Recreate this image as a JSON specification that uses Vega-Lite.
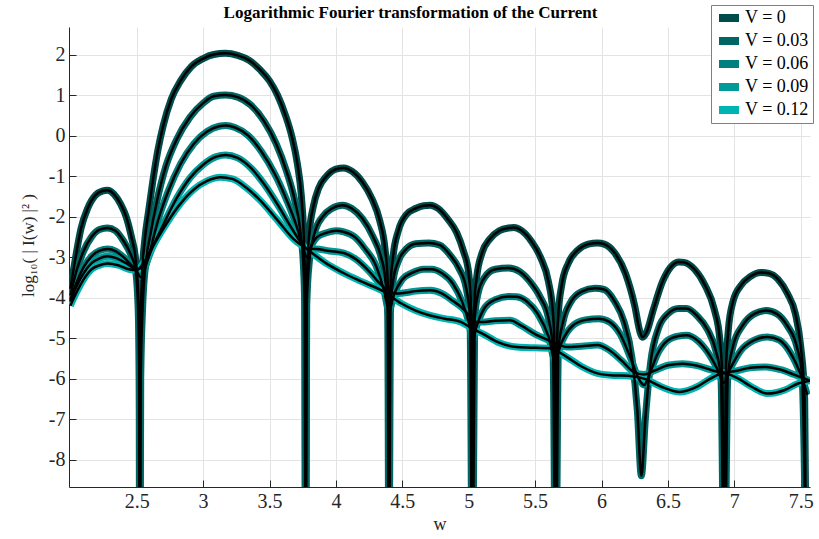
{
  "$schema": "https://vega.github.io/schema/vega-lite/v6.json",
  "width": 741,
  "height": 460,
  "autosize": {"type": "none"},
  "padding": {"left": 69, "top": 27, "right": 9, "bottom": 52},
  "background": "white",
  "config": {
    "view": {"stroke": null}
  },
  "title": {
    "text": "Logarithmic Fourier transformation of the Current",
    "font": "Liberation Serif",
    "fontSize": 17,
    "fontWeight": "bold",
    "color": "#000000",
    "anchor": "middle",
    "frame": "group",
    "baseline": "alphabetic",
    "dx": -29,
    "dy": 38,
    "offset": 8
  },
  "data": {
    "values": [
      {"s":"V = 0","w":2.00,"v":-3.78},{"s":"V = 0","w":2.04,"v":-3.0},{"s":"V = 0","w":2.08,"v":-2.3},{"s":"V = 0","w":2.13,"v":-1.8},{"s":"V = 0","w":2.19,"v":-1.47},{"s":"V = 0","w":2.24,"v":-1.37},{"s":"V = 0","w":2.28,"v":-1.35},{"s":"V = 0","w":2.33,"v":-1.45},{"s":"V = 0","w":2.38,"v":-1.7},{"s":"V = 0","w":2.42,"v":-2.0},{"s":"V = 0","w":2.46,"v":-2.5},{"s":"V = 0","w":2.49,"v":-3.0},{"s":"V = 0","w":2.51,"v":-3.8},{"s":"V = 0","w":2.518,"v":-5},{"s":"V = 0","w":2.522,"v":-12},{"s":"V = 0","w":2.527,"v":-5},{"s":"V = 0","w":2.54,"v":-3.5},{"s":"V = 0","w":2.56,"v":-2.6},{"s":"V = 0","w":2.59,"v":-1.85},{"s":"V = 0","w":2.62,"v":-1.15},{"s":"V = 0","w":2.66,"v":-0.35},{"s":"V = 0","w":2.7,"v":0.25},{"s":"V = 0","w":2.76,"v":0.9},{"s":"V = 0","w":2.83,"v":1.35},{"s":"V = 0","w":2.91,"v":1.7},{"s":"V = 0","w":3.0,"v":1.9},{"s":"V = 0","w":3.08,"v":2.0},{"s":"V = 0","w":3.17,"v":2.03},{"s":"V = 0","w":3.26,"v":1.98},{"s":"V = 0","w":3.35,"v":1.85},{"s":"V = 0","w":3.43,"v":1.62},{"s":"V = 0","w":3.5,"v":1.35},{"s":"V = 0","w":3.56,"v":1.0},{"s":"V = 0","w":3.62,"v":0.5},{"s":"V = 0","w":3.67,"v":-0.05},{"s":"V = 0","w":3.71,"v":-0.7},{"s":"V = 0","w":3.74,"v":-1.5},{"s":"V = 0","w":3.757,"v":-2.4},{"s":"V = 0","w":3.766,"v":-3.4},{"s":"V = 0","w":3.772,"v":-12},{"s":"V = 0","w":3.778,"v":-4.2},{"s":"V = 0","w":3.785,"v":-3.2},{"s":"V = 0","w":3.8,"v":-2.4},{"s":"V = 0","w":3.83,"v":-1.75},{"s":"V = 0","w":3.87,"v":-1.3},{"s":"V = 0","w":3.93,"v":-1.0},{"s":"V = 0","w":4.0,"v":-0.83},{"s":"V = 0","w":4.06,"v":-0.8},{"s":"V = 0","w":4.12,"v":-0.88},{"s":"V = 0","w":4.2,"v":-1.15},{"s":"V = 0","w":4.27,"v":-1.55},{"s":"V = 0","w":4.33,"v":-2.1},{"s":"V = 0","w":4.37,"v":-2.8},{"s":"V = 0","w":4.39,"v":-3.6},{"s":"V = 0","w":4.396,"v":-4.8},{"s":"V = 0","w":4.4,"v":-12},{"s":"V = 0","w":4.404,"v":-4.8},{"s":"V = 0","w":4.41,"v":-3.8},{"s":"V = 0","w":4.43,"v":-3.0},{"s":"V = 0","w":4.47,"v":-2.35},{"s":"V = 0","w":4.53,"v":-1.95},{"s":"V = 0","w":4.6,"v":-1.8},{"s":"V = 0","w":4.66,"v":-1.73},{"s":"V = 0","w":4.71,"v":-1.72},{"s":"V = 0","w":4.77,"v":-1.8},{"s":"V = 0","w":4.84,"v":-2.05},{"s":"V = 0","w":4.91,"v":-2.4},{"s":"V = 0","w":4.96,"v":-2.85},{"s":"V = 0","w":5.0,"v":-3.4},{"s":"V = 0","w":5.018,"v":-4.3},{"s":"V = 0","w":5.024,"v":-5.5},{"s":"V = 0","w":5.028,"v":-12},{"s":"V = 0","w":5.032,"v":-5.5},{"s":"V = 0","w":5.04,"v":-4.3},{"s":"V = 0","w":5.06,"v":-3.5},{"s":"V = 0","w":5.1,"v":-2.9},{"s":"V = 0","w":5.16,"v":-2.55},{"s":"V = 0","w":5.23,"v":-2.35},{"s":"V = 0","w":5.3,"v":-2.28},{"s":"V = 0","w":5.34,"v":-2.27},{"s":"V = 0","w":5.4,"v":-2.35},{"s":"V = 0","w":5.47,"v":-2.6},{"s":"V = 0","w":5.54,"v":-3.0},{"s":"V = 0","w":5.6,"v":-3.6},{"s":"V = 0","w":5.635,"v":-4.4},{"s":"V = 0","w":5.648,"v":-5.5},{"s":"V = 0","w":5.655,"v":-12},{"s":"V = 0","w":5.662,"v":-5.5},{"s":"V = 0","w":5.675,"v":-4.4},{"s":"V = 0","w":5.7,"v":-3.7},{"s":"V = 0","w":5.75,"v":-3.15},{"s":"V = 0","w":5.82,"v":-2.83},{"s":"V = 0","w":5.9,"v":-2.68},{"s":"V = 0","w":5.97,"v":-2.65},{"s":"V = 0","w":6.02,"v":-2.68},{"s":"V = 0","w":6.1,"v":-2.9},{"s":"V = 0","w":6.18,"v":-3.4},{"s":"V = 0","w":6.25,"v":-4.2},{"s":"V = 0","w":6.29,"v":-4.85},{"s":"V = 0","w":6.31,"v":-4.98},{"s":"V = 0","w":6.34,"v":-4.85},{"s":"V = 0","w":6.39,"v":-4.3},{"s":"V = 0","w":6.46,"v":-3.6},{"s":"V = 0","w":6.52,"v":-3.25},{"s":"V = 0","w":6.58,"v":-3.12},{"s":"V = 0","w":6.62,"v":-3.13},{"s":"V = 0","w":6.7,"v":-3.3},{"s":"V = 0","w":6.78,"v":-3.7},{"s":"V = 0","w":6.85,"v":-4.3},{"s":"V = 0","w":6.89,"v":-5.0},{"s":"V = 0","w":6.91,"v":-6},{"s":"V = 0","w":6.925,"v":-12},{"s":"V = 0","w":6.935,"v":-6},{"s":"V = 0","w":6.955,"v":-4.8},{"s":"V = 0","w":6.99,"v":-4.1},{"s":"V = 0","w":7.05,"v":-3.7},{"s":"V = 0","w":7.12,"v":-3.48},{"s":"V = 0","w":7.2,"v":-3.38},{"s":"V = 0","w":7.26,"v":-3.4},{"s":"V = 0","w":7.33,"v":-3.55},{"s":"V = 0","w":7.4,"v":-3.9},{"s":"V = 0","w":7.46,"v":-4.4},{"s":"V = 0","w":7.5,"v":-5.2},{"s":"V = 0","w":7.53,"v":-6.5},{"s":"V = 0","w":7.545,"v":-12},

      {"s":"V = 0.03","w":2.00,"v":-3.95},{"s":"V = 0.03","w":2.05,"v":-3.3},{"s":"V = 0.03","w":2.1,"v":-2.85},{"s":"V = 0.03","w":2.16,"v":-2.5},{"s":"V = 0.03","w":2.22,"v":-2.32},{"s":"V = 0.03","w":2.28,"v":-2.28},{"s":"V = 0.03","w":2.34,"v":-2.35},{"s":"V = 0.03","w":2.4,"v":-2.6},{"s":"V = 0.03","w":2.45,"v":-2.9},{"s":"V = 0.03","w":2.49,"v":-3.3},{"s":"V = 0.03","w":2.51,"v":-4.2},{"s":"V = 0.03","w":2.52,"v":-6},{"s":"V = 0.03","w":2.525,"v":-12},{"s":"V = 0.03","w":2.53,"v":-6},{"s":"V = 0.03","w":2.545,"v":-4.2},{"s":"V = 0.03","w":2.57,"v":-3.1},{"s":"V = 0.03","w":2.6,"v":-2.5},{"s":"V = 0.03","w":2.65,"v":-1.65},{"s":"V = 0.03","w":2.72,"v":-0.75},{"s":"V = 0.03","w":2.8,"v":-0.1},{"s":"V = 0.03","w":2.9,"v":0.45},{"s":"V = 0.03","w":3.0,"v":0.8},{"s":"V = 0.03","w":3.08,"v":0.97},{"s":"V = 0.03","w":3.17,"v":1.0},{"s":"V = 0.03","w":3.26,"v":0.95},{"s":"V = 0.03","w":3.36,"v":0.75},{"s":"V = 0.03","w":3.46,"v":0.35},{"s":"V = 0.03","w":3.55,"v":-0.2},{"s":"V = 0.03","w":3.63,"v":-0.9},{"s":"V = 0.03","w":3.69,"v":-1.6},{"s":"V = 0.03","w":3.73,"v":-2.3},{"s":"V = 0.03","w":3.755,"v":-3.2},{"s":"V = 0.03","w":3.765,"v":-4.2},{"s":"V = 0.03","w":3.772,"v":-12},{"s":"V = 0.03","w":3.78,"v":-4.2},{"s":"V = 0.03","w":3.8,"v":-3.1},{"s":"V = 0.03","w":3.84,"v":-2.4},{"s":"V = 0.03","w":3.9,"v":-2.0},{"s":"V = 0.03","w":3.97,"v":-1.8},{"s":"V = 0.03","w":4.05,"v":-1.72},{"s":"V = 0.03","w":4.12,"v":-1.8},{"s":"V = 0.03","w":4.2,"v":-2.05},{"s":"V = 0.03","w":4.28,"v":-2.5},{"s":"V = 0.03","w":4.34,"v":-3.0},{"s":"V = 0.03","w":4.37,"v":-3.5},{"s":"V = 0.03","w":4.39,"v":-4.4},{"s":"V = 0.03","w":4.4,"v":-12},{"s":"V = 0.03","w":4.41,"v":-4.4},{"s":"V = 0.03","w":4.43,"v":-3.6},{"s":"V = 0.03","w":4.47,"v":-3.1},{"s":"V = 0.03","w":4.53,"v":-2.8},{"s":"V = 0.03","w":4.6,"v":-2.67},{"s":"V = 0.03","w":4.7,"v":-2.65},{"s":"V = 0.03","w":4.78,"v":-2.7},{"s":"V = 0.03","w":4.86,"v":-2.95},{"s":"V = 0.03","w":4.93,"v":-3.3},{"s":"V = 0.03","w":4.98,"v":-3.75},{"s":"V = 0.03","w":5.01,"v":-4.5},{"s":"V = 0.03","w":5.028,"v":-12},{"s":"V = 0.03","w":5.045,"v":-4.5},{"s":"V = 0.03","w":5.07,"v":-3.9},{"s":"V = 0.03","w":5.12,"v":-3.5},{"s":"V = 0.03","w":5.2,"v":-3.3},{"s":"V = 0.03","w":5.3,"v":-3.27},{"s":"V = 0.03","w":5.38,"v":-3.35},{"s":"V = 0.03","w":5.46,"v":-3.6},{"s":"V = 0.03","w":5.54,"v":-4.0},{"s":"V = 0.03","w":5.6,"v":-4.5},{"s":"V = 0.03","w":5.635,"v":-5.3},{"s":"V = 0.03","w":5.655,"v":-12},{"s":"V = 0.03","w":5.675,"v":-5.3},{"s":"V = 0.03","w":5.71,"v":-4.6},{"s":"V = 0.03","w":5.77,"v":-4.1},{"s":"V = 0.03","w":5.85,"v":-3.85},{"s":"V = 0.03","w":5.95,"v":-3.77},{"s":"V = 0.03","w":6.02,"v":-3.8},{"s":"V = 0.03","w":6.1,"v":-4.1},{"s":"V = 0.03","w":6.17,"v":-4.6},{"s":"V = 0.03","w":6.23,"v":-5.5},{"s":"V = 0.03","w":6.27,"v":-6.8},{"s":"V = 0.03","w":6.3,"v":-8.4},{"s":"V = 0.03","w":6.33,"v":-7.0},{"s":"V = 0.03","w":6.37,"v":-5.6},{"s":"V = 0.03","w":6.43,"v":-4.75},{"s":"V = 0.03","w":6.5,"v":-4.4},{"s":"V = 0.03","w":6.58,"v":-4.27},{"s":"V = 0.03","w":6.64,"v":-4.27},{"s":"V = 0.03","w":6.72,"v":-4.45},{"s":"V = 0.03","w":6.8,"v":-4.8},{"s":"V = 0.03","w":6.86,"v":-5.3},{"s":"V = 0.03","w":6.9,"v":-6.0},{"s":"V = 0.03","w":6.925,"v":-12},{"s":"V = 0.03","w":6.95,"v":-6.0},{"s":"V = 0.03","w":6.99,"v":-5.2},{"s":"V = 0.03","w":7.06,"v":-4.7},{"s":"V = 0.03","w":7.15,"v":-4.4},{"s":"V = 0.03","w":7.24,"v":-4.32},{"s":"V = 0.03","w":7.32,"v":-4.4},{"s":"V = 0.03","w":7.4,"v":-4.7},{"s":"V = 0.03","w":7.47,"v":-5.2},{"s":"V = 0.03","w":7.51,"v":-5.9},{"s":"V = 0.03","w":7.545,"v":-12},

      {"s":"V = 0.06","w":2.00,"v":-4.05},{"s":"V = 0.06","w":2.05,"v":-3.6},{"s":"V = 0.06","w":2.1,"v":-3.25},{"s":"V = 0.06","w":2.16,"v":-2.98},{"s":"V = 0.06","w":2.22,"v":-2.84},{"s":"V = 0.06","w":2.28,"v":-2.8},{"s":"V = 0.06","w":2.34,"v":-2.85},{"s":"V = 0.06","w":2.4,"v":-3.0},{"s":"V = 0.06","w":2.46,"v":-3.2},{"s":"V = 0.06","w":2.5,"v":-3.35},{"s":"V = 0.06","w":2.53,"v":-3.49},{"s":"V = 0.06","w":2.56,"v":-3.3},{"s":"V = 0.06","w":2.6,"v":-2.85},{"s":"V = 0.06","w":2.66,"v":-2.1},{"s":"V = 0.06","w":2.74,"v":-1.35},{"s":"V = 0.06","w":2.83,"v":-0.7},{"s":"V = 0.06","w":2.93,"v":-0.2},{"s":"V = 0.06","w":3.03,"v":0.1},{"s":"V = 0.06","w":3.12,"v":0.23},{"s":"V = 0.06","w":3.17,"v":0.25},{"s":"V = 0.06","w":3.24,"v":0.2},{"s":"V = 0.06","w":3.34,"v":0.0},{"s":"V = 0.06","w":3.44,"v":-0.4},{"s":"V = 0.06","w":3.54,"v":-0.95},{"s":"V = 0.06","w":3.63,"v":-1.6},{"s":"V = 0.06","w":3.7,"v":-2.2},{"s":"V = 0.06","w":3.75,"v":-2.75},{"s":"V = 0.06","w":3.78,"v":-3.0},{"s":"V = 0.06","w":3.81,"v":-2.75},{"s":"V = 0.06","w":3.86,"v":-2.5},{"s":"V = 0.06","w":3.93,"v":-2.4},{"s":"V = 0.06","w":4.0,"v":-2.35},{"s":"V = 0.06","w":4.06,"v":-2.38},{"s":"V = 0.06","w":4.14,"v":-2.5},{"s":"V = 0.06","w":4.22,"v":-2.8},{"s":"V = 0.06","w":4.3,"v":-3.2},{"s":"V = 0.06","w":4.36,"v":-3.8},{"s":"V = 0.06","w":4.4,"v":-4.31},{"s":"V = 0.06","w":4.44,"v":-3.9},{"s":"V = 0.06","w":4.5,"v":-3.55},{"s":"V = 0.06","w":4.58,"v":-3.38},{"s":"V = 0.06","w":4.66,"v":-3.3},{"s":"V = 0.06","w":4.72,"v":-3.3},{"s":"V = 0.06","w":4.8,"v":-3.4},{"s":"V = 0.06","w":4.88,"v":-3.65},{"s":"V = 0.06","w":4.95,"v":-4.1},{"s":"V = 0.06","w":5.0,"v":-4.6},{"s":"V = 0.06","w":5.03,"v":-5.05},{"s":"V = 0.06","w":5.06,"v":-4.7},{"s":"V = 0.06","w":5.12,"v":-4.25},{"s":"V = 0.06","w":5.2,"v":-4.05},{"s":"V = 0.06","w":5.3,"v":-3.97},{"s":"V = 0.06","w":5.36,"v":-3.98},{"s":"V = 0.06","w":5.44,"v":-4.1},{"s":"V = 0.06","w":5.52,"v":-4.4},{"s":"V = 0.06","w":5.6,"v":-4.95},{"s":"V = 0.06","w":5.65,"v":-5.54},{"s":"V = 0.06","w":5.7,"v":-5.1},{"s":"V = 0.06","w":5.78,"v":-4.7},{"s":"V = 0.06","w":5.88,"v":-4.55},{"s":"V = 0.06","w":5.98,"v":-4.52},{"s":"V = 0.06","w":6.06,"v":-4.6},{"s":"V = 0.06","w":6.14,"v":-4.9},{"s":"V = 0.06","w":6.22,"v":-5.5},{"s":"V = 0.06","w":6.28,"v":-6.0},{"s":"V = 0.06","w":6.32,"v":-6.16},{"s":"V = 0.06","w":6.36,"v":-5.9},{"s":"V = 0.06","w":6.42,"v":-5.4},{"s":"V = 0.06","w":6.5,"v":-5.05},{"s":"V = 0.06","w":6.58,"v":-4.95},{"s":"V = 0.06","w":6.64,"v":-4.93},{"s":"V = 0.06","w":6.72,"v":-5.05},{"s":"V = 0.06","w":6.8,"v":-5.35},{"s":"V = 0.06","w":6.87,"v":-5.75},{"s":"V = 0.06","w":6.92,"v":-6.1},{"s":"V = 0.06","w":6.97,"v":-5.75},{"s":"V = 0.06","w":7.05,"v":-5.3},{"s":"V = 0.06","w":7.15,"v":-5.05},{"s":"V = 0.06","w":7.25,"v":-4.97},{"s":"V = 0.06","w":7.34,"v":-5.05},{"s":"V = 0.06","w":7.42,"v":-5.35},{"s":"V = 0.06","w":7.5,"v":-5.9},{"s":"V = 0.06","w":7.55,"v":-6.4},

      {"s":"V = 0.09","w":2.00,"v":-4.1},{"s":"V = 0.09","w":2.05,"v":-3.7},{"s":"V = 0.09","w":2.1,"v":-3.4},{"s":"V = 0.09","w":2.16,"v":-3.15},{"s":"V = 0.09","w":2.22,"v":-3.03},{"s":"V = 0.09","w":2.28,"v":-2.98},{"s":"V = 0.09","w":2.34,"v":-3.02},{"s":"V = 0.09","w":2.42,"v":-3.15},{"s":"V = 0.09","w":2.5,"v":-3.3},{"s":"V = 0.09","w":2.56,"v":-3.2},{"s":"V = 0.09","w":2.62,"v":-2.75},{"s":"V = 0.09","w":2.7,"v":-2.2},{"s":"V = 0.09","w":2.8,"v":-1.55},{"s":"V = 0.09","w":2.9,"v":-1.05},{"s":"V = 0.09","w":3.0,"v":-0.72},{"s":"V = 0.09","w":3.1,"v":-0.52},{"s":"V = 0.09","w":3.17,"v":-0.48},{"s":"V = 0.09","w":3.26,"v":-0.55},{"s":"V = 0.09","w":3.36,"v":-0.8},{"s":"V = 0.09","w":3.46,"v":-1.2},{"s":"V = 0.09","w":3.56,"v":-1.7},{"s":"V = 0.09","w":3.66,"v":-2.25},{"s":"V = 0.09","w":3.74,"v":-2.65},{"s":"V = 0.09","w":3.79,"v":-2.8},{"s":"V = 0.09","w":3.85,"v":-2.8},{"s":"V = 0.09","w":3.95,"v":-2.85},{"s":"V = 0.09","w":4.06,"v":-2.9},{"s":"V = 0.09","w":4.15,"v":-3.05},{"s":"V = 0.09","w":4.25,"v":-3.35},{"s":"V = 0.09","w":4.33,"v":-3.65},{"s":"V = 0.09","w":4.39,"v":-3.82},{"s":"V = 0.09","w":4.45,"v":-3.9},{"s":"V = 0.09","w":4.52,"v":-3.88},{"s":"V = 0.09","w":4.6,"v":-3.84},{"s":"V = 0.09","w":4.71,"v":-3.82},{"s":"V = 0.09","w":4.8,"v":-3.9},{"s":"V = 0.09","w":4.88,"v":-4.08},{"s":"V = 0.09","w":4.95,"v":-4.25},{"s":"V = 0.09","w":5.02,"v":-4.5},{"s":"V = 0.09","w":5.06,"v":-4.6},{"s":"V = 0.09","w":5.12,"v":-4.6},{"s":"V = 0.09","w":5.2,"v":-4.57},{"s":"V = 0.09","w":5.31,"v":-4.56},{"s":"V = 0.09","w":5.4,"v":-4.7},{"s":"V = 0.09","w":5.5,"v":-4.9},{"s":"V = 0.09","w":5.6,"v":-5.05},{"s":"V = 0.09","w":5.67,"v":-5.15},{"s":"V = 0.09","w":5.74,"v":-5.22},{"s":"V = 0.09","w":5.85,"v":-5.2},{"s":"V = 0.09","w":5.97,"v":-5.17},{"s":"V = 0.09","w":6.06,"v":-5.3},{"s":"V = 0.09","w":6.15,"v":-5.55},{"s":"V = 0.09","w":6.24,"v":-5.83},{"s":"V = 0.09","w":6.32,"v":-5.9},{"s":"V = 0.09","w":6.4,"v":-5.8},{"s":"V = 0.09","w":6.5,"v":-5.67},{"s":"V = 0.09","w":6.61,"v":-5.63},{"s":"V = 0.09","w":6.72,"v":-5.68},{"s":"V = 0.09","w":6.82,"v":-5.78},{"s":"V = 0.09","w":6.91,"v":-5.85},{"s":"V = 0.09","w":7.0,"v":-5.82},{"s":"V = 0.09","w":7.12,"v":-5.73},{"s":"V = 0.09","w":7.24,"v":-5.71},{"s":"V = 0.09","w":7.35,"v":-5.78},{"s":"V = 0.09","w":7.45,"v":-5.9},{"s":"V = 0.09","w":7.57,"v":-6.05},

      {"s":"V = 0.12","w":2.00,"v":-4.2},{"s":"V = 0.12","w":2.05,"v":-3.85},{"s":"V = 0.12","w":2.1,"v":-3.55},{"s":"V = 0.12","w":2.16,"v":-3.3},{"s":"V = 0.12","w":2.22,"v":-3.2},{"s":"V = 0.12","w":2.28,"v":-3.16},{"s":"V = 0.12","w":2.36,"v":-3.2},{"s":"V = 0.12","w":2.44,"v":-3.3},{"s":"V = 0.12","w":2.5,"v":-3.32},{"s":"V = 0.12","w":2.55,"v":-3.15},{"s":"V = 0.12","w":2.61,"v":-2.8},{"s":"V = 0.12","w":2.7,"v":-2.3},{"s":"V = 0.12","w":2.81,"v":-1.76},{"s":"V = 0.12","w":2.93,"v":-1.33},{"s":"V = 0.12","w":3.03,"v":-1.12},{"s":"V = 0.12","w":3.13,"v":-1.03},{"s":"V = 0.12","w":3.22,"v":-1.07},{"s":"V = 0.12","w":3.33,"v":-1.3},{"s":"V = 0.12","w":3.43,"v":-1.6},{"s":"V = 0.12","w":3.55,"v":-2.05},{"s":"V = 0.12","w":3.68,"v":-2.55},{"s":"V = 0.12","w":3.78,"v":-2.8},{"s":"V = 0.12","w":3.93,"v":-3.16},{"s":"V = 0.12","w":4.05,"v":-3.38},{"s":"V = 0.12","w":4.19,"v":-3.6},{"s":"V = 0.12","w":4.36,"v":-3.85},{"s":"V = 0.12","w":4.49,"v":-4.14},{"s":"V = 0.12","w":4.6,"v":-4.32},{"s":"V = 0.12","w":4.71,"v":-4.44},{"s":"V = 0.12","w":4.82,"v":-4.52},{"s":"V = 0.12","w":4.94,"v":-4.6},{"s":"V = 0.12","w":5.02,"v":-4.75},{"s":"V = 0.12","w":5.11,"v":-4.9},{"s":"V = 0.12","w":5.22,"v":-5.1},{"s":"V = 0.12","w":5.36,"v":-5.22},{"s":"V = 0.12","w":5.5,"v":-5.24},{"s":"V = 0.12","w":5.61,"v":-5.25},{"s":"V = 0.12","w":5.74,"v":-5.47},{"s":"V = 0.12","w":5.85,"v":-5.7},{"s":"V = 0.12","w":5.97,"v":-5.87},{"s":"V = 0.12","w":6.09,"v":-5.92},{"s":"V = 0.12","w":6.2,"v":-5.93},{"s":"V = 0.12","w":6.32,"v":-6.0},{"s":"V = 0.12","w":6.45,"v":-6.2},{"s":"V = 0.12","w":6.59,"v":-6.33},{"s":"V = 0.12","w":6.72,"v":-6.2},{"s":"V = 0.12","w":6.82,"v":-6.0},{"s":"V = 0.12","w":6.92,"v":-5.87},{"s":"V = 0.12","w":7.02,"v":-5.98},{"s":"V = 0.12","w":7.13,"v":-6.2},{"s":"V = 0.12","w":7.25,"v":-6.37},{"s":"V = 0.12","w":7.38,"v":-6.28},{"s":"V = 0.12","w":7.48,"v":-6.12},{"s":"V = 0.12","w":7.57,"v":-6.05}
    ]
  },
  "encoding": {
    "x": {
      "field": "w", "type": "quantitative",
      "scale": {"domain": [1.99, 7.57], "nice": false, "zero": false},
      "axis": {
        "values": [2.5, 3, 3.5, 4, 4.5, 5, 5.5, 6, 6.5, 7, 7.5],
        "labelExpr": "datum.value + ''",
        "title": "w", "titleFont": "Liberation Serif", "titleFontSize": 18, "titleFontWeight": "normal", "titleColor": "#262626", "titlePadding": 4,
        "labelFont": "Liberation Serif", "labelFontSize": 20, "labelColor": "#262626", "labelPadding": 11, "labelFlush": false,
        "tickSize": -7, "tickColor": "#262626", "domainColor": "#262626",
        "grid": true, "gridColor": "#e3e3e3"
      }
    },
    "y": {
      "field": "v", "type": "quantitative",
      "scale": {"domain": [-8.675, 2.68], "nice": false, "zero": false},
      "axis": {
        "values": [-8, -7, -6, -5, -4, -3, -2, -1, 0, 1, 2],
        "labelExpr": "datum.value + ''",
        "title": "log₁₀( | I(w) |² )", "titleFont": "Liberation Serif", "titleFontSize": 17, "titleFontWeight": "normal", "titleColor": "#262626",
        "titleX": -41, "titleY": 218, "titleAngle": -90, "titleAlign": "center", "titleBaseline": "middle",
        "labelFont": "Liberation Serif", "labelFontSize": 20, "labelColor": "#262626", "labelPadding": 11,
        "tickSize": -7, "tickColor": "#262626", "domainColor": "#262626",
        "grid": true, "gridColor": "#e3e3e3"
      }
    }
  },
  "layer": [
    {
      "mark": {"type": "line", "strokeWidth": 7, "interpolate": "monotone", "clip": true},
      "encoding": {
        "color": {
          "field": "s", "type": "nominal",
          "scale": {"domain": ["V = 0", "V = 0.03", "V = 0.06", "V = 0.09", "V = 0.12"], "range": ["#004c4b", "#006664", "#00817f", "#009a98", "#00b4b2"]},
          "legend": {
            "title": null, "orient": "none", "legendX": 642, "legendY": -22,
            "strokeColor": "#7f7f7f", "fillColor": "white", "padding": 4,
            "symbolType": "stroke", "symbolStrokeWidth": 8, "symbolSize": 400,
            "clipHeight": 18,
            "labelFont": "Liberation Serif", "labelFontSize": 18, "labelColor": "#000000",
            "labelOffset": 2, "rowPadding": 5
          }
        }
      }
    },
    {
      "mark": {"type": "line", "strokeWidth": 2.5, "color": "#000000", "interpolate": "monotone", "clip": true},
      "encoding": {"detail": {"field": "s", "type": "nominal"}}
    }
  ]
}
